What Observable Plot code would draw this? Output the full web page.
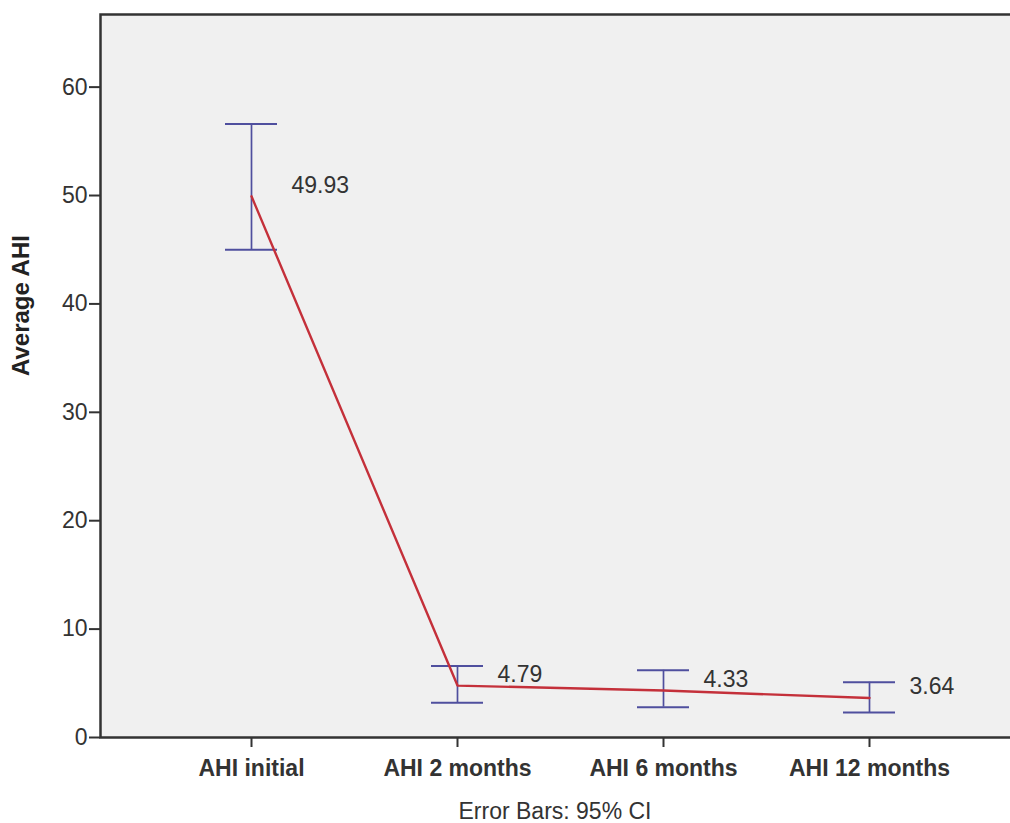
<!DOCTYPE html>
<html>
<head>
<meta charset="utf-8">
<script src="https://cdn.jsdelivr.net/npm/d3@7"></script>
<script src="https://cdn.jsdelivr.net/npm/@observablehq/plot@0.6"></script>
<style>
  body { margin: 0; background: #fff; font-family: "Liberation Sans", Arial, sans-serif; }
  #chart svg { display: block; }
  #caption { width: 1010px; text-align: center; font-size: 23px; line-height: 25px; color: #333; margin-top: 9px; padding-left: 100px; box-sizing: border-box; }
</style>
</head>
<body>
<div id="chart"></div>
<div id="caption">Error Bars: 95% CI</div>
<script>
const categories = ["AHI initial", "AHI 2 months", "AHI 6 months", "AHI 12 months"];
const means = [49.93, 4.79, 4.33, 3.64];
const ciLow = [45.0, 3.2, 2.8, 2.3];
const ciHigh = [56.6, 6.6, 6.2, 5.1];
const labels = ["49.93", "4.79", "4.33", "3.64"];
const yTicks = [0, 10, 20, 30, 40, 50, 60];

const data = categories.map((c, i) => ({cat: c, mean: means[i], lo: ciLow[i], hi: ciHigh[i], label: labels[i]}));

const barColor = "#4f4f9e";
const lineColor = "#c4303a";

const chart = Plot.plot({
  width: 1010,
  height: 790,
  marginLeft: 100,
  marginRight: 0,
  marginTop: 14,
  marginBottom: 53,
  style: {fontFamily: "Liberation Sans, Arial, sans-serif", fontSize: "23px", color: "#333", background: "#fff"},
  x: {type: "band", domain: categories, paddingInner: 0.748, paddingOuter: 0.58, align: 0.52, label: null},
  y: {domain: [0, 66.7], label: null},
  marks: [
    Plot.frame({fill: "#f0f0f0", stroke: "#333", strokeWidth: 2.5, insetRight: -4}),
    Plot.axisY({ticks: yTicks, tickSize: 11, tickPadding: 2, stroke: "#333", strokeWidth: 2, fontSize: 23, label: null}),
    Plot.axisX({tickSize: 10, tickPadding: 12, stroke: "#333", strokeWidth: 2, fontSize: 23, fontWeight: "bold", label: null}),
    Plot.ruleX(data, {x: "cat", y1: "lo", y2: "hi", stroke: barColor, strokeWidth: 1.7}),
    Plot.tickY(data, {x: "cat", y: "lo", stroke: barColor, strokeWidth: 2}),
    Plot.tickY(data, {x: "cat", y: "hi", stroke: barColor, strokeWidth: 2}),
    Plot.line(data, {x: "cat", y: "mean", stroke: lineColor, strokeWidth: 2.4}),
    Plot.text(data, {x: "cat", y: "mean", text: "label", textAnchor: "start", dx: 40, dy: -11, fontSize: 23, fill: "#333"}),
    Plot.text(["Average AHI"], {frameAnchor: "left", rotate: -90, dx: -79, fontWeight: "bold", fontSize: 24, fill: "#222"})
  ]
});
document.getElementById("chart").appendChild(chart);
</script>
</body>
</html>
